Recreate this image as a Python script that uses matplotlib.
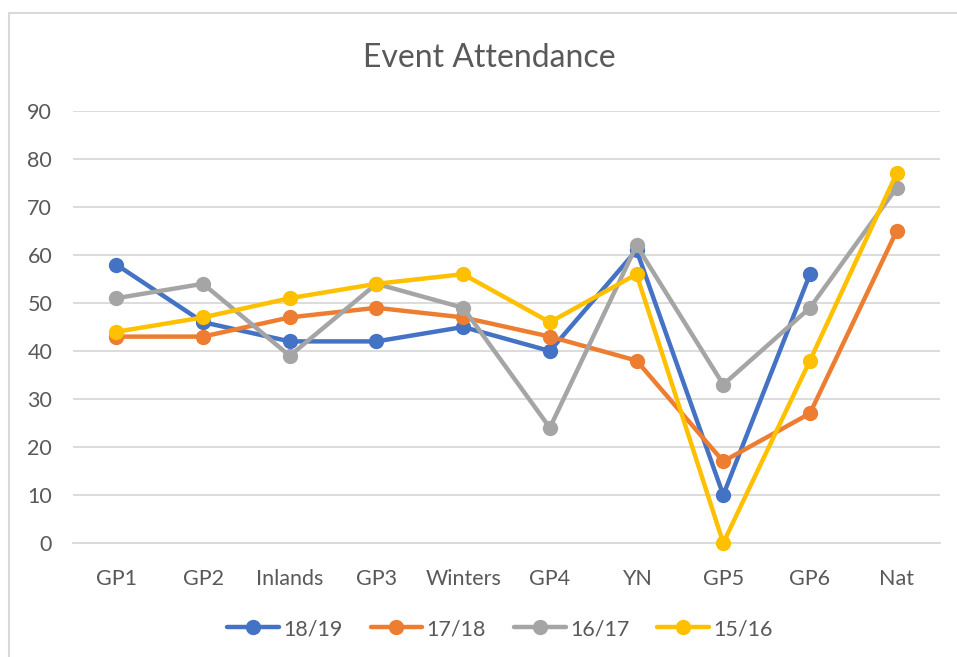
import matplotlib
matplotlib.use("Agg")
import matplotlib.pyplot as plt
from matplotlib.patches import Rectangle

plt.rcParams['font.family'] = ['Lato', 'DejaVu Sans']

categories = ["GP1", "GP2", "Inlands", "GP3", "Winters", "GP4", "YN", "GP5", "GP6", "Nat"]
s1819 = [58, 46, 42, 42, 45, 40, 61, 10, 56, None]
s1718 = [43, 43, 47, 49, 47, 43, 38, 17, 27, 65]
s1617 = [51, 54, 39, 54, 49, 24, 62, 33, 49, 74]
s1516 = [44, 47, 51, 54, 56, 46, 56, 0, 38, 77]
series_names = ["18/19", "17/18", "16/17", "15/16"]
colors = ["#4472C4", "#ED7D31", "#A5A5A5", "#FFC000"]
yticks = [0, 10, 20, 30, 40, 50, 60, 70, 80, 90]

W, H = 957, 657
fig = plt.figure(figsize=(W / 100, H / 100), dpi=100)

# chart border (clipped at right/bottom like the screenshot)
fig.patches.append(Rectangle((8.5 / W, -0.1), 1.2, (H - 12.5) / H + 0.1,
                             transform=fig.transFigure, fill=False,
                             edgecolor="#D9D9D9", linewidth=1.5))

left, right = 73 / W, 940 / W
bottom, top = (H - 543) / H, (H - 111) / H
ax = fig.add_axes([left, bottom, right - left, top - bottom])

x = list(range(len(categories)))
for name, vals, c in zip(series_names, [s1819, s1718, s1617, s1516], colors):
    xs = [i for i, v in zip(x, vals) if v is not None]
    ys = [v for v in vals if v is not None]
    ax.plot(xs, ys, color=c, linewidth=3.2, marker="o", markersize=10,
            label=name, solid_capstyle="round", solid_joinstyle="round", zorder=3)

ax.set_xlim(-0.5, len(categories) - 0.5)
ax.set_ylim(0, 90)
ax.set_yticks(yticks)
ax.set_xticks(x)
ax.set_xticklabels(categories)
ax.grid(axis="y", color="#D9D9D9", linewidth=1.3)
ax.set_axisbelow(True)
for s in ["top", "right", "left"]:
    ax.spines[s].set_visible(False)
ax.spines["bottom"].set_color("#D9D9D9")
ax.spines["bottom"].set_linewidth(1.3)
ax.tick_params(axis="both", length=0, labelsize=15.5, labelcolor="#595959")
ax.tick_params(axis="y", pad=15)
ax.tick_params(axis="x", pad=19)
for ln in ax.lines:
    ln.set_clip_on(False)

fig.text(489 / W, 1 - 58 / H, "Event Attendance", ha="center", va="center",
         fontsize=23, color="#595959")

leg = fig.legend(loc="center", bbox_to_anchor=(500 / W, 1 - 629 / H), ncol=4,
                 frameon=False, fontsize=15.5, handlelength=2.4, columnspacing=1.3,
                 handletextpad=0.2)
for t in leg.get_texts():
    t.set_color("#595959")

fig.savefig("out.png", dpi=100)
